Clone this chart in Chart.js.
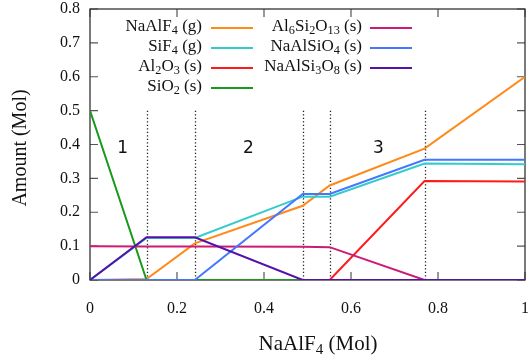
<!DOCTYPE html>
<html>
<head>
<meta charset="utf-8">
<script src="https://cdn.jsdelivr.net/npm/chart.js@4/dist/chart.umd.min.js"></script>
<style>
  body { margin: 0; background: #fff; }
  #wrap { position: relative; width: 529px; height: 361px; font-family: "Liberation Serif", "DejaVu Serif", serif; color: #111; }
  #wrap canvas { position: absolute; left: 0; top: 0; }
  .leg { position: absolute; font-size: 17px; line-height: 20px; height: 20px; text-align: right; white-space: nowrap; }
  .leg sub, .xt sub { font-size: 0.72em; vertical-align: baseline; position: relative; top: 0.28em; line-height: 0; }
  .swatch { position: absolute; height: 0; border-top: 2px solid; }
  .xt { position: absolute; font-size: 21px; line-height: 24px; white-space: nowrap; }
</style>
</head>
<body>
<div id="wrap">
  <canvas id="grafico" width="529" height="361"></canvas>
</div>
<script>
// ==================== DATOS ====================

// puntos de quiebre en NaAlF4 (Mol)
const steps = [0, 0.13, 0.241, 0.489, 0.551, 0.769, 1];

const naalf4    = [0, 0.003, 0.108, 0.219, 0.279, 0.388, 0.6];
const sif4      = [0, 0.124, 0.124, 0.246, 0.246, 0.344, 0.342];
const al2o3     = [0, 0, 0, 0, 0, 0.292, 0.291];
const sio2      = [0.5, 0, 0, 0, 0, 0, 0];
const al6si2o13 = [0.1, 0.099, 0.099, 0.098, 0.097, 0, 0];
const naalsio4  = [0, 0, 0, 0.254, 0.254, 0.355, 0.355];
const naalsi3o8 = [0, 0.126, 0.126, 0, 0, 0, 0];

const seriesNames = ['NaAlF4 (g)', 'SiF4 (g)', 'Al2O3 (s)', 'SiO2 (s)', 'Al6Si2O13 (s)', 'NaAlSiO4 (s)', 'NaAlSi3O8 (s)'];
const seriesData = [naalf4, sif4, al2o3, sio2, al6si2o13, naalsio4, naalsi3o8];
const seriesColors = ['#ff8a1a', '#33cccc', '#ff1a1a', '#1a991a', '#cc1a77', '#4477ff', '#5511aa'];

// límites de fase (líneas punteadas)
const boundaries = [0.13, 0.241, 0.489, 0.551, 0.769];
const boundaryTop = 0.5;
const regionLabels = ['1', '2', '3'];
const regionX = [0.075, 0.364, 0.663];
const regionY = 0.388;

const xTicks = [0, 0.2, 0.4, 0.6, 0.8, 1];
const yTicks = [0, 0.1, 0.2, 0.3, 0.4, 0.5, 0.6, 0.7, 0.8];

// ==================== UTILIDADES ====================

function conSubindices(nombre) {
    return nombre.replace(/(\d+)/g, '<sub>$1</sub>');
}

function formatoTick(v) {
    return String(+Number(v).toFixed(2));
}

// marco, marcas interiores, líneas punteadas, etiquetas de región y título Y
const decoracion = {
    id: 'decoracion',
    beforeDatasetsDraw(chart) {
        const { ctx, chartArea: a, scales: { x, y } } = chart;
        ctx.save();

        // líneas punteadas
        ctx.strokeStyle = '#222';
        ctx.lineWidth = 1.3;
        ctx.setLineDash([1.3, 2.2]);
        boundaries.forEach(b => {
            const px = Math.round(x.getPixelForValue(b)) + 0.5;
            ctx.beginPath();
            ctx.moveTo(px, y.getPixelForValue(boundaryTop));
            ctx.lineTo(px, y.getPixelForValue(0));
            ctx.stroke();
        });
        ctx.setLineDash([]);

        // marcas de eje hacia dentro
        const largo = 8;
        ctx.strokeStyle = '#555';
        ctx.lineWidth = 1.2;
        ctx.beginPath();
        xTicks.forEach(v => {
            const px = x.getPixelForValue(v);
            ctx.moveTo(px, a.bottom); ctx.lineTo(px, a.bottom - largo);
            ctx.moveTo(px, a.top); ctx.lineTo(px, a.top + largo);
        });
        yTicks.forEach(v => {
            const py = y.getPixelForValue(v);
            ctx.moveTo(a.left, py); ctx.lineTo(a.left + largo, py);
            ctx.moveTo(a.right, py); ctx.lineTo(a.right - largo, py);
        });
        ctx.stroke();

        // marco
        ctx.strokeStyle = '#333';
        ctx.lineWidth = 1.3;
        ctx.strokeRect(a.left, a.top, a.right - a.left, a.bottom - a.top);

        // etiquetas de región
        ctx.fillStyle = '#111';
        ctx.font = '17px "DejaVu Sans", sans-serif';
        ctx.textAlign = 'center';
        ctx.textBaseline = 'middle';
        regionLabels.forEach((t, i) => {
            ctx.fillText(t, x.getPixelForValue(regionX[i]), y.getPixelForValue(regionY));
        });

        // título eje Y
        ctx.font = '20px "Liberation Serif", serif';
        ctx.translate(21, 148);
        ctx.rotate(-Math.PI / 2);
        ctx.fillText('Amount (Mol)', 0, 0);
        ctx.restore();
    }
};

// ==================== GRÁFICO ====================

const datasets = seriesNames.map((nombre, i) => ({
    label: nombre,
    data: steps.map((s, j) => ({ x: s, y: seriesData[i][j] })),
    borderColor: seriesColors[i],
    backgroundColor: seriesColors[i],
    borderWidth: 2,
    pointRadius: 0,
    tension: 0,
    fill: false,
    order: seriesNames.length - i
}));

const fuenteTicks = { family: '"Liberation Serif", serif', size: 16 };

function sinRelleno(s) {
    s.paddingLeft = 0; s.paddingRight = 0; s.paddingTop = 0; s.paddingBottom = 0;
}

new Chart(document.getElementById('grafico'), {
    type: 'line',
    data: { datasets: datasets },
    options: {
        responsive: false,
        animation: false,
        devicePixelRatio: 1,
        layout: { padding: { left: 0, right: 4, top: 9, bottom: 0 } },
        plugins: { legend: { display: false }, tooltip: { enabled: false } },
        scales: {
            x: {
                type: 'linear', min: 0, max: 1,
                afterBuildTicks: s => { s.ticks = xTicks.map(v => ({ value: v })); },
                afterFit: s => { s.height = 81; sinRelleno(s); },
                grid: { display: false, drawTicks: false },
                border: { display: false },
                ticks: { font: fuenteTicks, color: '#111', padding: 19, maxRotation: 0, callback: formatoTick }
            },
            y: {
                type: 'linear', min: 0, max: 0.8,
                afterBuildTicks: s => { s.ticks = yTicks.map(v => ({ value: v })); },
                afterFit: s => { s.width = 90; sinRelleno(s); },
                grid: { display: false, drawTicks: false },
                border: { display: false },
                ticks: { font: fuenteTicks, color: '#111', padding: 10, callback: formatoTick }
            }
        }
    },
    plugins: [decoracion]
});

// ==================== LEYENDA Y TÍTULO X (HTML) ====================

const wrap = document.getElementById('wrap');
const filaY = [28, 48, 68, 87.5];
seriesNames.forEach((nombre, i) => {
    const col = i < 4 ? 0 : 1;
    const fila = i < 4 ? i : i - 4;
    const textoDerecha = col === 0 ? 202 : 362;
    const lineaX = col === 0 ? 211 : 370;

    const div = document.createElement('div');
    div.className = 'leg';
    div.style.left = (textoDerecha - 200) + 'px';
    div.style.width = '200px';
    div.style.top = (filaY[fila] - 12) + 'px';
    div.innerHTML = conSubindices(nombre);
    wrap.appendChild(div);

    const sw = document.createElement('div');
    sw.className = 'swatch';
    sw.style.left = lineaX + 'px';
    sw.style.width = '42px';
    sw.style.top = (filaY[fila] - 1) + 'px';
    sw.style.borderColor = seriesColors[i];
    wrap.appendChild(sw);
});

const xt = document.createElement('div');
xt.className = 'xt';
xt.innerHTML = conSubindices('NaAlF4 (Mol)');
wrap.appendChild(xt);
xt.style.left = (318 - xt.offsetWidth / 2) + 'px';
xt.style.top = (344 - 13) + 'px';
</script>
</body>
</html>
